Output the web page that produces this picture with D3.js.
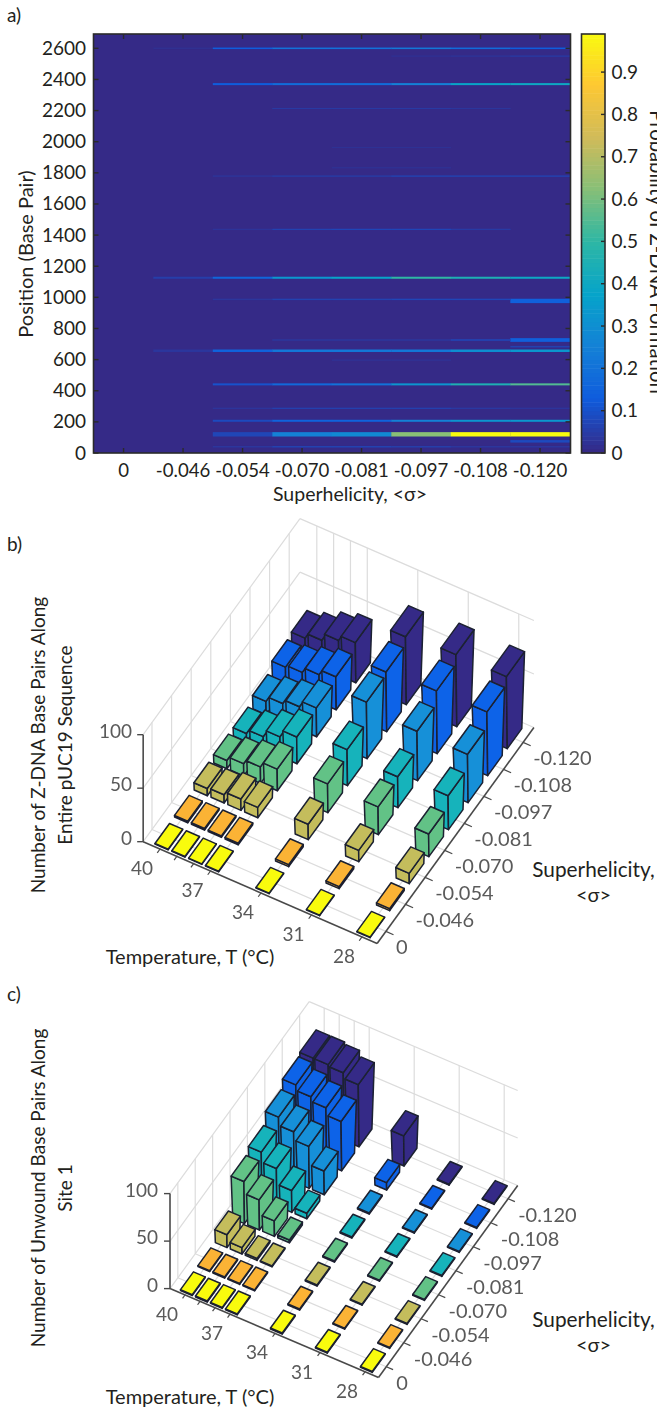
<!DOCTYPE html>
<html><head><meta charset="utf-8">
<script src="https://cdn.jsdelivr.net/npm/d3@7"></script>
<style>
html,body{margin:0;padding:0;background:#fff}
svg{display:block}
text{font-family:Lato,"Noto Sans",sans-serif;fill:#231f20}
</style></head><body>
<svg id="c" width="657" height="1412"></svg>
<script>
// ---------- data ----------
const sigmaLabels = ["0","-0.046","-0.054","-0.070","-0.081","-0.097","-0.108","-0.120"];
const yTicksA = [0,200,400,600,800,1000,1200,1400,1600,1800,2000,2200,2400,2600];
const cbTicks = [0,0.1,0.2,0.3,0.4,0.5,0.6,0.7,0.8,0.9];
const parulaStops = ["#352a87","#0f5cdd","#1481d6","#06a4ca","#2eb7a4","#87bf77","#d1bb59","#fec832","#f9fb0e"];
// heat-map sites: centre (bp), thickness (bp), probability per superhelicity column
const sitePositions = [2600,2550,2370,2213,1963,1832,1779,1437,1126,987,977,726,726,683,657,597,441,287,207,120,40,75];
const siteThickness = [10,7,13,7,5,5,8,7,13,9,28,10,24,10,16,6,13,8,13,28,10,16];
const siteProb = [
 [0,0.015,0.13,0.2,0.2,0.22,0.18,0.13],
 [0,0,0,0,0,0.02,0.03,0.05],
 [0,0,0.13,0.18,0.18,0.25,0.38,0.4],
 [0,0,0,0.04,0.04,0.04,0.03,0],
 [0,0,0,0,0.025,0.025,0,0],
 [0,0,0,0,0.03,0.03,0,0],
 [0,0,0.03,0.05,0.05,0.07,0.07,0.07],
 [0,0,0.03,0.07,0.08,0.08,0.05,0],
 [0,0.05,0.16,0.33,0.38,0.5,0.45,0.4],
 [0,0,0.03,0.06,0.06,0.07,0.07,0],
 [0,0,0,0,0,0,0,0.14],
 [0,0,0,0.03,0.03,0.03,0.07,0],
 [0,0,0,0,0,0,0,0.14],
 [0,0,0,0,0,0,0,0.06],
 [0,0.03,0.15,0.22,0.22,0.22,0.3,0.33],
 [0,0,0,0,0.03,0.03,0,0],
 [0,0,0.1,0.17,0.2,0.32,0.45,0.55],
 [0,0,0.03,0.06,0.06,0.06,0.04,0.03],
 [0,0,0.08,0.15,0.15,0.25,0.32,0.33],
 [0,0,0.07,0.25,0.28,0.63,1,1],
 [0,0,0.03,0.06,0.06,0.05,0.03,0.03],
 [0,0,0,0,0,0,0,0.08]
];
const temps = [40,39,38,37,34,31,28];
const tempTicks = [40,37,34,31,28];
const barColors = ["#f9fb0e","#fbb335","#c4bd5c","#62c286","#15b3bb","#1590d8","#0f63e8","#352a87"];
const heightsB = [
 [0.5,1.5,7,8,8,13,20,22],
 [0.5,1.5,8,12,12,18,22,27],
 [0.5,1.5,11,16,19,22,27,34],
 [0.5,1.5,10,21,26,28,32,39],
 [0.5,2,15,28,35,55,58,66],
 [0.5,2,11,27,30,48,61,70],
 [0.5,2,10,22,33,47,62,70]
];
const heightsC = [
 [1,1,14,46,52,64,73,76],
 [1,1,7,33,41,55,67,76],
 [1,1,2,17,24,46,62,74],
 [1,1,1,3,6,26,54,68],
 [1,1,1,1,1,1,8,33],
 [1,1,1,1,1,1,1,1],
 [1,1,1,1,1,1,1,1]
];

// ---------- setup ----------
const svg = d3.select("#c");
const defs = svg.append("defs");
defs.append("filter").attr("id","soft").attr("x","-5%").attr("y","-5%").attr("width","110%").attr("height","110%")
  .append("feGaussianBlur").attr("stdDeviation",0.55);
const parula = d3.scaleLinear().domain(parulaStops.map((_,i)=>i/(parulaStops.length-1))).range(parulaStops).clamp(true);
function label(g,s,x,y,size,o={}){
  const t=g.append("text").attr("x",x).attr("y",y).attr("font-size",size).text(s);
  if(o.anchor)t.attr("text-anchor",o.anchor);
  if(o.fill)t.style("fill",o.fill);
  if(o.rot!==undefined)t.attr("transform",`rotate(${o.rot} ${x} ${y})`);
  return t;
}
label(svg,"a)",7,22,19);
label(svg,"b)",7,551,19);
label(svg,"c)",7,1001,19);

// ---------- panel a ----------
(function(){
  const L=93.5,R=570.5,T=34,B=453;
  const g=svg.append("g");
  const x=d3.scaleBand().domain(sigmaLabels).range([L+0.3,L+0.3+59.5*8]).padding(0);
  const y=d3.scaleLinear().domain([0,2692]).range([B,T]);
  g.append("rect").attr("x",L).attr("y",T).attr("width",R-L).attr("height",B-T).attr("fill",parula(0));
  const cell=[];
  sitePositions.forEach((p,r)=>siteProb[r].forEach((v,c)=>{if(v>0)cell.push({p,w:siteThickness[r],v,c});}));
  cell.sort((a,b)=>b.w-a.w);
  g.selectAll("rect.c").data(cell).join("rect").attr("class","c")
    .attr("x",d=>x(sigmaLabels[d.c])).attr("width",x.bandwidth()+0.3)
    .attr("y",d=>y(d.p+d.w/2)).attr("height",d=>y(d.p-d.w/2)-y(d.p+d.w/2))
    .attr("fill",d=>parula(d.v));
  g.append("rect").attr("x",L).attr("y",T).attr("width",R-L).attr("height",B-T).attr("fill","none").attr("stroke","#2b2b2b").attr("stroke-width",1.6);
  sigmaLabels.forEach(s=>{
    const cx=x(s)+x.bandwidth()/2;
    g.append("line").attr("x1",cx).attr("x2",cx).attr("y1",B).attr("y2",B-5).attr("stroke","#2b2b2b").attr("stroke-width",1.4);
    g.append("line").attr("x1",cx).attr("x2",cx).attr("y1",T).attr("y2",T+5).attr("stroke","#2b2b2b").attr("stroke-width",1.4);
    label(g,s,cx,477,18.6,{anchor:"middle"});
  });
  yTicksA.forEach(v=>{
    g.append("line").attr("x1",L).attr("x2",L+5).attr("y1",y(v)).attr("y2",y(v)).attr("stroke","#2b2b2b").attr("stroke-width",1.4);
    g.append("line").attr("x1",R).attr("x2",R-5).attr("y1",y(v)).attr("y2",y(v)).attr("stroke","#2b2b2b").attr("stroke-width",1.4);
    label(g,v,86,y(v)+6.5,19,{anchor:"end"});
  });
  label(g,"Superhelicity, <σ>",350,501,19.5,{anchor:"middle"});
  label(g,"Position (Base Pair)",33,254,20,{anchor:"middle",rot:-90});
  // colour bar
  const cy=d3.scaleLinear().domain([0,0.99]).range([B,T]);
  const cL=581.5,cR=605;
  g.selectAll("rect.b").data(d3.range(0,0.99,0.01)).join("rect").attr("class","b")
    .attr("x",cL).attr("width",cR-cL).attr("y",d=>cy(d+0.01)).attr("height",d=>cy(d)-cy(d+0.01)+0.5)
    .attr("fill",d=>parula(d/0.99));
  g.append("rect").attr("x",cL).attr("y",T).attr("width",cR-cL).attr("height",B-T).attr("fill","none").attr("stroke","#2b2b2b").attr("stroke-width",1.6);
  cbTicks.forEach(v=>{
    g.append("line").attr("x1",cR).attr("x2",cR-4).attr("y1",cy(v)).attr("y2",cy(v)).attr("stroke","#2b2b2b").attr("stroke-width",1.4);
    label(g,v,611.5,cy(v)+6.5,19);
  });
  label(g,"Probability of Z-DNA Formation",650,252,20.3,{anchor:"middle",rot:90});
})();

// ---------- 3-D bar panels ----------
function bars3d(cfg){
  const g=svg.append("g").attr("filter","url(#soft)");
  // affine projection built from linear scales
  const tX=d3.scaleLinear().domain([40,28]).range([cfg.o[0],cfg.o[0]+12*cfg.t[0]]);
  const tY=d3.scaleLinear().domain([40,28]).range([cfg.o[1],cfg.o[1]+12*cfg.t[1]]);
  const sX=d3.scaleLinear().domain([-0.45,7.55]).range([0,8*cfg.s[0]]);
  const sY=d3.scaleLinear().domain([-0.45,7.55]).range([0,8*cfg.s[1]]);
  const zY=d3.scaleLinear().domain([0,100]).range([0,-cfg.z]);
  const P=(T,s,z=0)=>[tX(T)+sX(s),tY(T)+sY(s)+zY(z)];
  const line=d3.line();
  const sMin=-0.45,sMax=7.55,Tl=41,Tr=27.1;
  const grid=(a,b)=>g.append("path").attr("d",line([a,b])).attr("stroke","#dcdcdc").attr("stroke-width",1.2).attr("fill","none");
  // floor grid
  d3.range(8).forEach(i=>grid(P(Tl,i),P(Tr,i)));
  temps.forEach(T=>grid(P(T,sMin),P(T,sMax)));
  // walls
  d3.range(8).forEach(i=>grid(P(Tl,i),P(Tl,i,100)));
  temps.forEach(T=>grid(P(T,sMax),P(T,sMax,100)));
  [0,50,100].forEach(z=>{grid(P(Tl,sMin,z),P(Tl,sMax,z));grid(P(Tl,sMax,z),P(Tr,sMax,z));});
  // bars, far to near
  const data=[];
  temps.forEach((T,ti)=>sigmaLabels.forEach((_,i)=>data.push({T,i,h:cfg.h[ti][i]})));
  data.sort((a,b)=>b.i-a.i||b.T-a.T);
  const a0=0.39,b0=0.37;
  data.forEach(d=>{
    // footprint grows slightly with height: the reference is a perspective view
    const a=a0*(1+d.h/500), b=b0*(1+d.h/280);
    const A=P(d.T+a0,d.i-b0,0),F=P(d.T-a0,d.i-b0,0),Rr=P(d.T-a0,d.i+b0,0);
    const At=P(d.T+a,d.i-b,d.h),Ft=P(d.T-a,d.i-b,d.h),Rt=P(d.T-a,d.i+b,d.h),Bt=P(d.T+a,d.i+b,d.h);
    const col=barColors[d.i];
    [[A,F,Ft,At],[F,Rr,Rt,Ft],[At,Ft,Rt,Bt]].forEach(q=>{
      g.append("path").attr("d",line(q)+"Z").attr("fill",col).attr("stroke","#1b2030").attr("stroke-width",1.5).attr("stroke-linejoin","round");
    });
  });
  // axes
  const ax="#4a4a4a";
  const axis=(p,q,w=1.6)=>g.append("path").attr("d",line([p,q])).attr("stroke",ax).attr("stroke-width",w).attr("fill","none");
  axis(P(Tl,sMin),P(Tr,sMin));
  axis(P(Tr,sMin),P(Tr,sMax));
  axis(P(Tl,sMin),P(Tl,sMin,100));
  temps.forEach(T=>{const p=P(T,sMin);axis(p,[p[0]-cfg.s[0]*0.14,p[1]-cfg.s[1]*0.14],1.2);});
  d3.range(8).forEach(i=>{const p=P(Tr,i);axis(p,[p[0]+cfg.t[0]*0.45,p[1]+cfg.t[1]*0.45],1.2);});
  [0,50,100].forEach(z=>{const p=P(Tl,sMin,z);axis(p,[p[0]-6,p[1]],1.4);});
  const tg="#5a5a5a";
  tempTicks.forEach(T=>{const p=P(T,sMin);label(g,T,p[0]-18,p[1]+26,19,{anchor:"middle",fill:tg});});
  sigmaLabels.forEach((s,i)=>{const p=P(Tr,i);label(g,s,p[0]+10,p[1]+23,20,{fill:tg});});
  [0,50,100].forEach(z=>{const p=P(Tl,sMin,z);label(g,z,cfg.zl,p[1]+3,19,{anchor:"end",fill:tg});});
  // titles
  label(svg,"Temperature, T (°C)",190,cfg.ty,20,{anchor:"middle"});
  label(svg,"Superhelicity,",593.5,cfg.sy,20.8,{anchor:"middle"});
  label(svg,"<σ>",593.5,cfg.sy+25,20,{anchor:"middle"});
  label(svg,cfg.y1,45,cfg.yc,19,{anchor:"middle",rot:-90});
  label(svg,cfg.y2,72,cfg.yc,19,{anchor:"middle",rot:-90});
}
bars3d({o:[160,849],t:[16.83,7.33],s:[19.6,-27],z:107,h:heightsB,zl:132,ty:964,sy:877,
  y1:"Number of Z-DNA Base Pairs Along",y2:"Entire pUC19 Sequence",yc:745});
bars3d({o:[185,1295],t:[15,6.4],s:[17.4,-24],z:95,h:heightsC,zl:158,ty:1404,sy:1327,
  y1:"Number of Unwound Base Pairs Along",y2:"Site 1",yc:1188});
</script>
</body></html>
